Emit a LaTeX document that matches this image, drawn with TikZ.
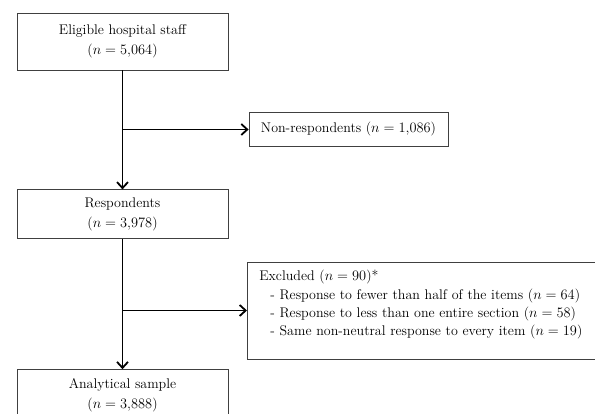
\documentclass[tikz,border=0pt]{standalone}
\usetikzlibrary{arrows,arrows.meta,positioning}

\begin{document}
\begin{tikzpicture}[
    box/.style={rectangle, draw=black!75, line width=0.8pt, fill=white, minimum width=211pt, align=center, font=\fontsize{14}{20}\selectfont},
    flow/.style={-{Straight Barb[length=6pt,width=11pt,line width=1.8pt]}, line width=1.8pt}
]
    \useasboundingbox (0,0) rectangle (595pt,414pt);
    % Main column of boxes
    \node[box, minimum height=57pt] (staff) at (122.5pt,372.5pt) {Eligible hospital staff \\ ($n = 5{,}064$)};
    \node[box, minimum height=49pt, below=119pt of staff] (resp) {Respondents \\ ($n = 3{,}978$)};
    \node[box, minimum height=52pt, below=130pt of resp] (sample) {Analytical sample \\ ($n = 3{,}888$)};
    % Side boxes
    \node[box, minimum width=199pt, minimum height=34pt] (nonresp) at (348.5pt,284.5pt) {Non-respondents ($n = 1{,}086$)};
    \node[box, anchor=west, minimum width=353pt, minimum height=97pt, text width=329pt, inner xsep=12pt, align=left, text depth=70pt, font=\fontsize{14}{18.4}\selectfont] (excl) at (247pt,103.5pt) {Excluded ($n = 90$)*\\
        \hspace*{11pt}- Response to fewer than half of the items ($n = 64$)\\
        \hspace*{11pt}- Response to less than one entire section ($n = 58$)\\
        \hspace*{11pt}- Same non-neutral response to every item ($n = 19$)};
    % Connectors
    \draw[flow] (staff.south) -- (resp.north);
    \draw[flow] (resp.south) -- (sample.north);
    \draw[flow] (staff.south |- nonresp.west) -- (nonresp.west);
    \draw[flow] (resp.south |- excl.west) -- (excl.west);
\end{tikzpicture}
\end{document}
